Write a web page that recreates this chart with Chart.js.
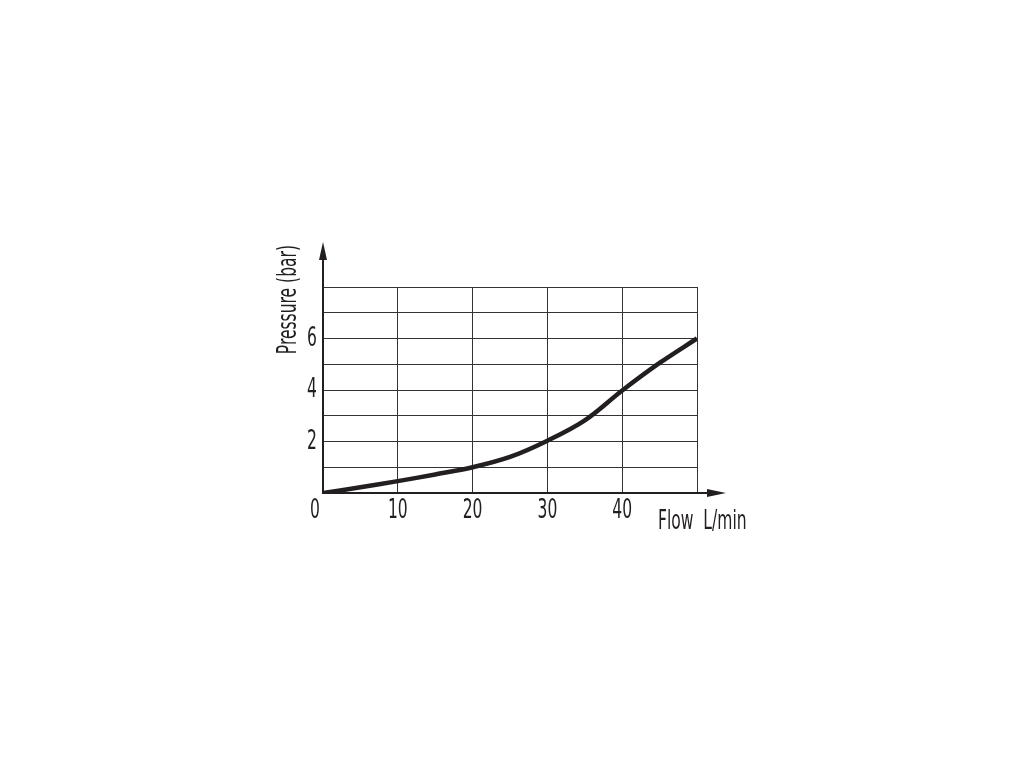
<!DOCTYPE html>
<html>
<head>
<meta charset="utf-8">
<script src="https://cdn.jsdelivr.net/npm/chart.js@4.4.0/dist/chart.umd.min.js"></script>
<style>
    html, body { margin: 0; padding: 0; background: #fff; }
    #wrap { width: 1024px; height: 768px; }
</style>
</head>
<body>
<div id="wrap"><canvas id="chart1"></canvas></div>
<script>
const flow = [0, 5, 10, 15, 20, 25, 30, 35, 40, 45, 50];
const pressure = [0, 0.22, 0.46, 0.72, 1.0, 1.4, 2.03, 2.82, 3.98, 5.05, 6.0];
const yLabels = [2, 4, 6];
const xLabels = [0, 10, 20, 30, 40];

const fontFam = "'DejaVu Sans Condensed', 'DejaVu Sans', sans-serif";
const ink = "#231f20";
const squeeze = 0.64; // the original uses a very narrow face

// narrow text: draw scaled horizontally around (x, y)
function narrowText(c, txt, x, y, align) {
    c.save();
    c.translate(x, y);
    c.scale(squeeze, 1);
    c.textAlign = align;
    c.fillText(txt, 0, 0);
    c.restore();
}

// axis arrows, tick labels and axis titles
const arrowPlugin = {
    id: "arrows",
    afterDraw(chart) {
        const c = chart.ctx;
        const a = chart.chartArea;
        const xs = chart.scales.x;
        const ys = chart.scales.y;
        c.save();
        c.strokeStyle = ink;
        c.fillStyle = ink;
        c.lineWidth = 2;
        // y axis extension
        c.beginPath();
        c.moveTo(a.left, a.top);
        c.lineTo(a.left, a.top - 30);
        c.stroke();
        c.beginPath();
        c.moveTo(a.left, a.top - 45);
        c.lineTo(a.left - 4, a.top - 27);
        c.lineTo(a.left + 4, a.top - 27);
        c.closePath();
        c.fill();
        // x axis extension
        c.beginPath();
        c.moveTo(a.right, a.bottom);
        c.lineTo(a.right + 12, a.bottom);
        c.stroke();
        c.beginPath();
        c.moveTo(a.right + 29, a.bottom);
        c.lineTo(a.right + 10, a.bottom - 4);
        c.lineTo(a.right + 10, a.bottom + 4);
        c.closePath();
        c.fill();

        c.font = "27px " + fontFam;
        c.textBaseline = "middle";
        // tick labels
        for (const v of xLabels) {
            const px = xs.getPixelForValue(v) - (v === 0 ? 8 : 0);
            narrowText(c, String(v), px, a.bottom + 18, "center");
        }
        for (const v of yLabels) {
            narrowText(c, String(v), a.left - 6, ys.getPixelForValue(v), "right");
        }
        // titles
        narrowText(c, "Flow  L/min", a.right - 39, a.bottom + 29, "left");
        c.translate(a.left - 34, a.top - 42);
        c.rotate(-Math.PI / 2);
        narrowText(c, "Pressure (bar)", 0, 0, "right");
        c.restore();
    }
};

const ctx = document.getElementById("chart1").getContext("2d");
new Chart(ctx, {
    type: "line",
    data: {
        datasets: [{
            data: flow.map((f, i) => ({ x: f, y: pressure[i] })),
            borderColor: ink,
            borderWidth: 4.5,
            pointRadius: 0,
            fill: false,
            tension: 0.35
        }]
    },
    options: {
        responsive: true,
        maintainAspectRatio: false,
        animation: false,
        layout: { padding: { left: 283, right: 327, top: 287, bottom: 235 } },
        plugins: { legend: { display: false }, tooltip: { enabled: false } },
        scales: {
            x: {
                type: "linear",
                min: 0,
                max: 50,
                afterFit: s => { s.height = 40; },
                border: { display: true, color: ink, width: 2 },
                grid: { color: "#333333", lineWidth: 1, drawTicks: false },
                ticks: { stepSize: 10, autoSkip: false, display: false }
            },
            y: {
                min: 0,
                max: 8,
                afterFit: s => { s.width = 40; },
                border: { display: true, color: ink, width: 2 },
                grid: { color: "#333333", lineWidth: 1, drawTicks: false },
                ticks: { stepSize: 1, autoSkip: false, display: false }
            }
        }
    },
    plugins: [arrowPlugin]
});
</script>
</body>
</html>
